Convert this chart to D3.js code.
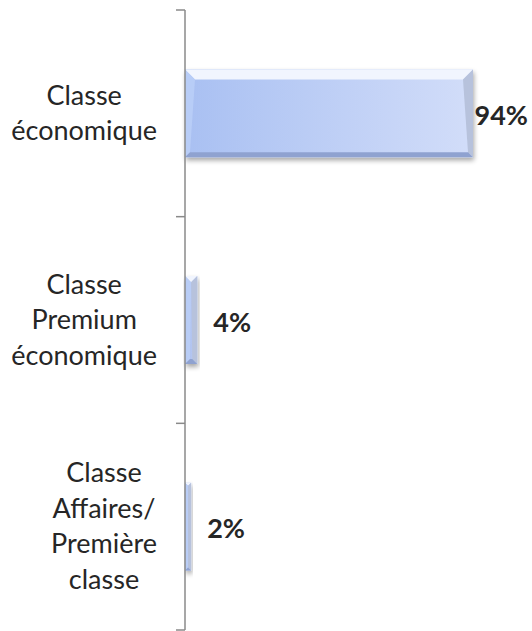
<!DOCTYPE html>
<html>
<head>
<meta charset="utf-8">
<script src="https://cdn.jsdelivr.net/npm/d3@7"></script>
<style>
  html, body { margin: 0; padding: 0; background: #fff; }
  svg { display: block; }
</style>
</head>
<body>
<svg id="chart" width="532" height="631"></svg>
<script>
const categories = [
  ["Classe", "économique"],
  ["Classe", "Premium", "économique"],
  ["Classe", "Affaires/", "Première", "classe"]
];
const values = [0.94, 0.04, 0.02];
const valueLabels = ["94%", "4%", "2%"];

const W = 532, H = 631;
const svg = d3.select("#chart");
const axisX = 185;
const x = d3.scaleLinear().domain([0, 1]).range([axisX, axisX + 288 / 0.94]);
const idx = d3.range(categories.length);
const yBand = d3.scaleBand().domain(idx).range([10, 630]).paddingInner(0);
const yBar = d3.scaleBand().domain(idx).range([10, 630]).paddingInner(0.575).paddingOuter(0.2875);

const defs = svg.append("defs");
const g1 = defs.append("linearGradient").attr("id", "body").attr("x1", "0").attr("x2", "1").attr("y1", "0").attr("y2", "0");
g1.append("stop").attr("offset", "0").attr("stop-color", "#a9c0f2");
g1.append("stop").attr("offset", "1").attr("stop-color", "#d2ddf9");
const g2 = defs.append("linearGradient").attr("id", "thin").attr("x1", "0").attr("x2", "1").attr("y1", "0").attr("y2", "0");
g2.append("stop").attr("offset", "0").attr("stop-color", "#a8bdee");
g2.append("stop").attr("offset", "1").attr("stop-color", "#bccbf2");
const f = defs.append("filter").attr("id", "shadow").attr("x", "-20%").attr("y", "-20%").attr("width", "140%").attr("height", "140%");
f.append("feGaussianBlur").attr("in", "SourceAlpha").attr("stdDeviation", 2.5);
f.append("feOffset").attr("dx", 1).attr("dy", 3).attr("result", "o");
f.append("feComponentTransfer").append("feFuncA").attr("type", "linear").attr("slope", 0.35);
const fm = f.append("feMerge");
fm.append("feMergeNode");
fm.append("feMergeNode").attr("in", "SourceGraphic");

// Bars
const bars = svg.append("g").selectAll("g.bar").data(idx).join("g").attr("class", "bar").attr("filter", "url(#shadow)");
bars.each(function(i) {
  const g = d3.select(this);
  const x0 = x(0), x1 = x(values[i]);
  const y0 = yBar(i), y1 = yBar(i) + yBar.bandwidth();
  const w = x1 - x0;
  const b = Math.min(10, w / 2);
  const bb = Math.min(5, w / 2);
  g.append("rect").attr("x", x0).attr("y", y0).attr("width", w).attr("height", y1 - y0)
    .attr("fill", w > 40 ? "url(#body)" : "url(#thin)");
  // top bevel
  g.append("polygon").attr("points", [[x0, y0], [x1, y0], [x1 - b, y0 + b], [x0 + b, y0 + b]].join(" "))
    .attr("fill", "#f1f5fe");
  // left bevel
  g.append("polygon").attr("points", [[x0, y0], [x0 + b, y0 + b], [x0 + bb, y1 - bb], [x0, y1]].join(" "))
    .attr("fill", "#bcd0f7").attr("opacity", 0.8);
  // right bevel
  g.append("polygon").attr("points", [[x1, y0], [x1, y1], [x1 - bb, y1 - bb], [x1 - b, y0 + b]].join(" "))
    .attr("fill", "#b7c2dc");
  // bottom bevel
  g.append("polygon").attr("points", [[x0, y1], [x0 + bb, y1 - bb], [x1 - bb, y1 - bb], [x1, y1]].join(" "))
    .attr("fill", "#8fa2d0");
});

// Axis
const axis = svg.append("g");
axis.append("line").attr("x1", axisX).attr("x2", axisX).attr("y1", yBand.range()[0]).attr("y2", yBand.range()[1])
  .attr("stroke", "#8a8a8a").attr("stroke-width", 1.5);
const tickYs = idx.map(i => yBand(i)).concat([yBand.range()[1]]);
axis.selectAll("line.tick").data(tickYs).join("line").attr("class", "tick")
  .attr("x1", axisX - 9).attr("x2", axisX).attr("y1", d => d).attr("y2", d => d)
  .attr("stroke", "#8a8a8a").attr("stroke-width", 1.5);

// Category labels
const fontFam = "Lato, 'Open Sans', sans-serif";
const lineH = 35.5;
const labelRight = 157;
idx.forEach(i => {
  const lines = categories[i];
  const t = svg.append("text").attr("font-family", fontFam).attr("font-size", 27).attr("fill", "#262626")
    .attr("text-anchor", "middle");
  const cy = yBand(i) + yBand.bandwidth() / 2;
  const spans = lines.map((s, k) => t.append("tspan").attr("y", cy + (k - (lines.length - 1) / 2) * lineH + 9).text(s));
  const maxW = d3.max(spans, s => s.node().getComputedTextLength());
  spans.forEach(s => s.attr("x", labelRight - maxW / 2));
});

// Value labels
idx.forEach(i => {
  const t = svg.append("text").attr("font-family", fontFam).attr("font-size", 27).attr("font-weight", "bold")
    .attr("fill", "#262626").attr("dominant-baseline", "central")
    .attr("y", yBar(i) + yBar.bandwidth() / 2 + 1).text(valueLabels[i]);
  const tw = t.node().getComputedTextLength();
  t.attr("x", Math.min(x(values[i]) + 16, W - tw - 4));
});
</script>
</body>
</html>
